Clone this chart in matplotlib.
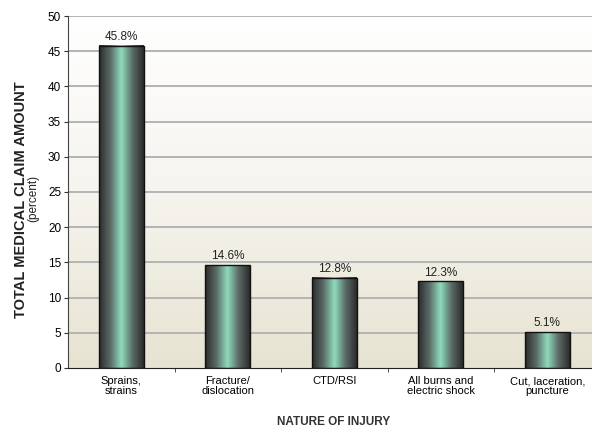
import numpy as np
import matplotlib.pyplot as plt
from matplotlib.colors import LinearSegmentedColormap

plt.rcParams.update({
    'font.family': ['Liberation Sans Narrow', 'Liberation Sans', 'DejaVu Sans'],
    'font.size': 8,
})

categories = ['Sprains,\nstrains', 'Fracture/\ndislocation', 'CTD/RSI',
              'All burns and\nelectric shock', 'Cut, laceration,\npuncture']
values = [45.8, 14.6, 12.8, 12.3, 5.1]
labels = ['45.8%', '14.6%', '12.8%', '12.3%', '5.1%']

BAR_W = 0.42

bar_cmap = LinearSegmentedColormap.from_list(
    'bar', ['#2b2b2b', '#5a6a66', '#8fdcbc', '#5a6a66', '#2b2b2b'])
bg_cmap = LinearSegmentedColormap.from_list('bg', ['#e7e3d2', '#f6f4ee', '#ffffff'])

fig = plt.figure(figsize=(5.92, 4.29), dpi=100)
ax = fig.add_axes([0.1149, 0.1422, 0.8851, 0.8205])
ax.set_xlim(-0.5, 4.42)
ax.set_ylim(0, 50)

# background gradient
bg = np.linspace(0, 1, 256).reshape(-1, 1)
ax.imshow(bg, cmap=bg_cmap, origin='lower', aspect='auto',
          extent=(-0.5, 4.42, 0, 50), zorder=0)

for yv in range(5, 51, 5):
    ax.axhline(yv, color='#b4b4b4', lw=1.4, zorder=1)

grad = np.linspace(0, 1, 256).reshape(1, -1)
x = np.arange(len(values))
bars = ax.bar(x, values, BAR_W, color='none', edgecolor='#111111', lw=1.0, zorder=3)
for b, v, lab in zip(bars, values, labels):
    x0 = b.get_x()
    ax.imshow(grad, cmap=bar_cmap, aspect='auto',
              extent=(x0, x0 + BAR_W, 0, v), zorder=2)
    ax.text(b.get_x() + BAR_W / 2, v + 0.4, lab, ha='center', va='bottom',
            fontsize=8.5, color='#222222', zorder=4)
ax.set_xlim(-0.5, 4.42)
ax.set_ylim(0, 50)

ax.set_yticks(range(0, 51, 5))
ax.set_xticks(x)
ax.set_xticklabels(categories, fontsize=8, linespacing=1.0)
ax.set_xticks(np.arange(0.5, 4.5, 1), minor=True)
ax.tick_params(axis='x', which='major', length=0, pad=6)
ax.tick_params(axis='x', which='minor', length=3, color='#333333')
ax.tick_params(axis='y', length=3, pad=2, labelsize=8.5, color='#333333')

for s in ['top', 'right']:
    ax.spines[s].set_visible(False)
ax.spines['left'].set_color('#444444')
ax.spines['bottom'].set_color('#222222')

fig.text(0.036, 0.534, 'TOTAL MEDICAL CLAIM AMOUNT', rotation=90, ha='center',
         va='center', fontsize=10.5, fontweight='bold', color='#222222',
         family=['Liberation Sans', 'DejaVu Sans'])
fig.text(0.056, 0.537, '(percent)', rotation=90, ha='center', va='center',
         fontsize=8.5, color='#222222')
fig.text(0.563, 0.016, 'NATURE OF INJURY', ha='center', va='center',
         fontsize=8.5, fontweight='bold', color='#333333',
         family=['Liberation Sans Narrow', 'Liberation Sans', 'DejaVu Sans'])

fig.savefig('out.png', dpi=100)
